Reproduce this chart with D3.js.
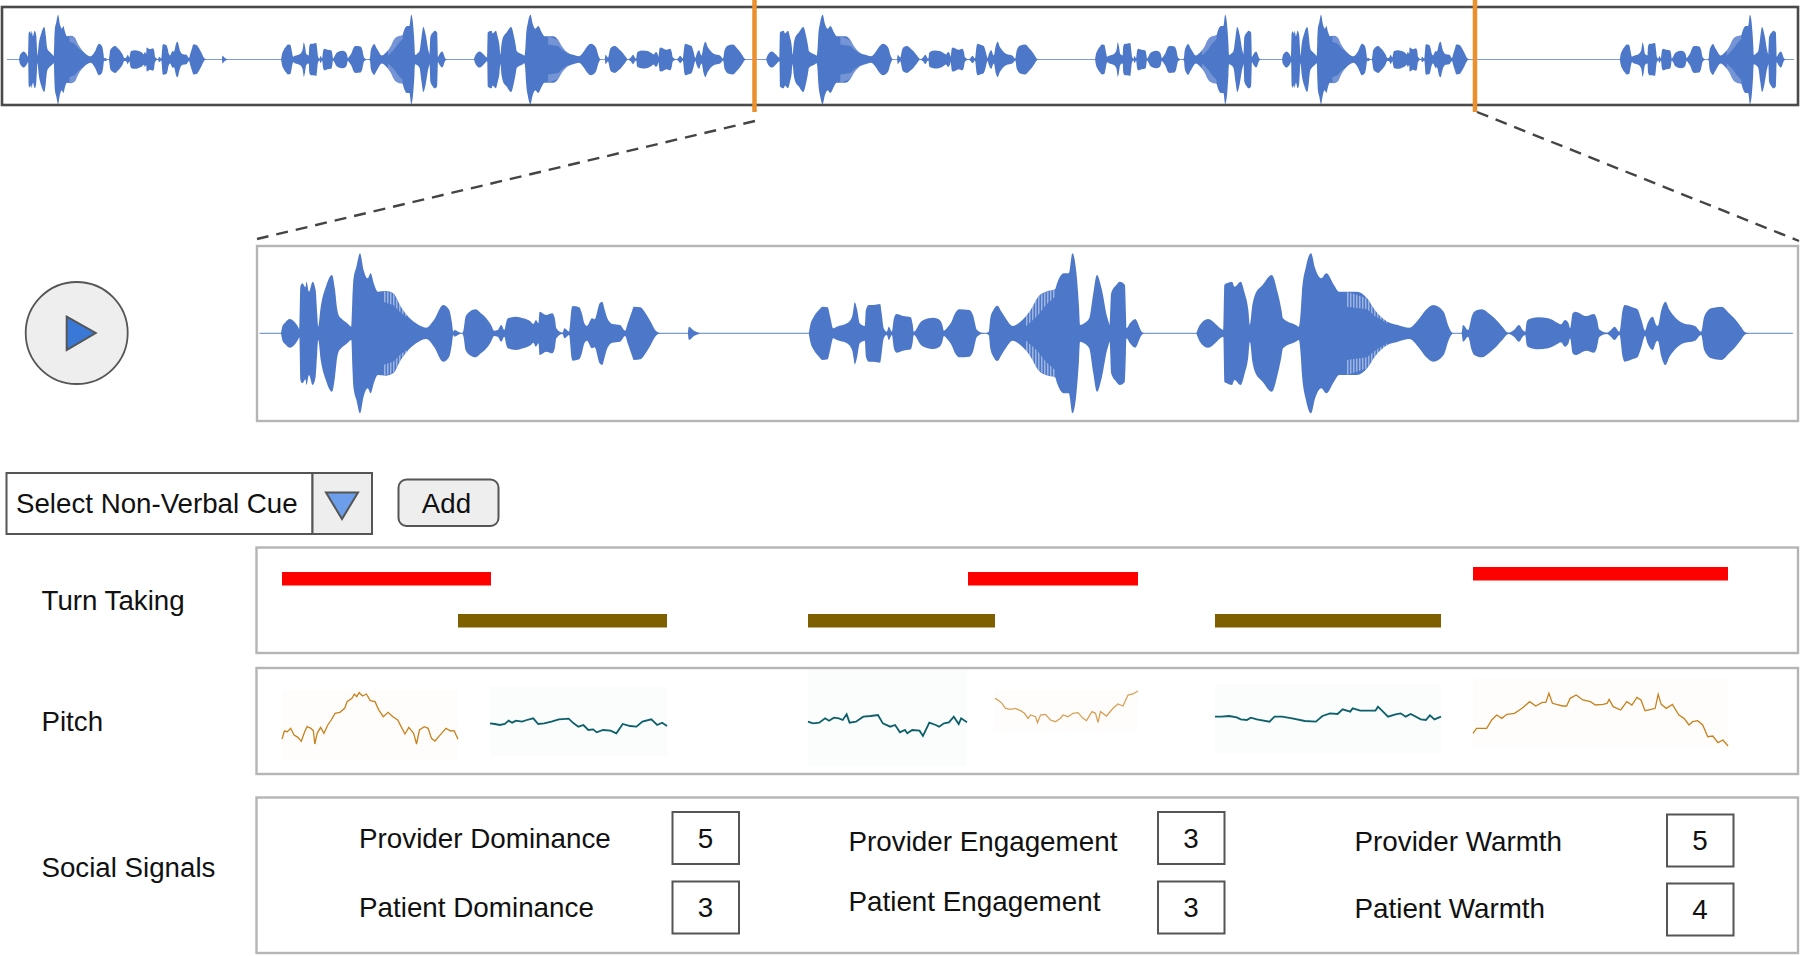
<!DOCTYPE html>
<html>
<head>
<meta charset="utf-8">
<script src="https://cdn.jsdelivr.net/npm/d3@7"></script>
<style>
    html, body { margin: 0; padding: 0; background: white; }
    text { font-family: "Liberation Sans", Arial, sans-serif; fill: #111; }
</style>
</head>
<body>
<div id="viz-container"></div>
<script>
// ---- waveform envelopes (frame, amplitude) ----
let shortFrames = [0,3,8,17,28,34,36,38,42,48,50,55,62,68,71,73,78,88,100,106,110,113,118,130,138,140,142,148,155,162,170,176,182,190,205,220,235,250,265,285,300,318,330,335,338,340,355,358,362,370,382,392,400,412,418,425,432,438,442,445,460,475,490,495,500,505,507,520,532,537,540,552,556,565,570,572,585,590,595,600,610,615,625,630,635,640,650,665,675,680,688,692,705,715,725,735,745];
let shortAmps = [0,22,32,43,32,18,12,140,150,138,155,125,155,130,60,20,80,140,175,130,75,55,45,30,20,100,160,200,240,190,165,180,150,125,127,120,80,50,30,17,40,85,70,35,5,10,0,10,50,65,72,60,50,25,8,10,25,10,35,45,50,45,35,28,40,30,65,55,60,45,15,2,15,5,75,82,78,60,30,22,45,42,90,95,70,45,28,25,8,30,65,80,78,60,35,8,0];

let backFrames = [0,3,10,20,27,37,42,48,55,75,85,88,90,95,100,110,112,118,127,140,143,147,153,157,163,167,172,185,200,204,206,220,225,245,255,262,265,273,280,287,295,315,322,330,345,353,356,362,370,378,385,400,415,435,450,465,483,487,500,510,517,525,530,532,540,550,558,565,575,585,588,590,593,603,610,620,622,623,630,640,653,660];
let backAmps = [0,25,50,70,80,78,50,15,20,30,50,75,93,70,30,22,70,85,85,88,60,15,5,20,5,45,58,52,48,25,5,35,40,47,42,25,8,20,35,60,72,70,55,10,0,5,45,70,83,65,48,22,35,70,110,125,132,150,180,180,240,180,80,25,30,45,120,175,130,50,35,25,120,145,155,145,60,15,30,43,5,0];

let longFrames = [0,7,23,40,47,53,55,60,70,75,87,95,102,105,110,115,130,148,160,167,170,195,201,205,207,215,225,233,245,255,270,280,315,335,350,375,395,418,435,450,465,485,495,500,505,520,523,533,540,545,560,575,585,600,612,623,633,640,645,648,652,670,690,708,715,723,730,733,738,743,765,780,786,790,805,813,820,830,836,840,855,865,873,880,885,895,902,905,912,920,928,935,955,978,990,996,1010,1030,1045,1055,1068,1075,1085];
let longAmps = [0,25,43,25,15,10,145,150,155,140,155,120,70,25,85,115,145,175,120,70,45,25,20,70,120,200,240,195,165,180,145,125,125,105,70,35,25,17,40,70,85,65,20,5,0,0,25,10,50,65,72,58,45,20,2,10,25,10,5,35,42,48,45,32,27,40,30,15,60,65,52,58,40,12,2,10,20,5,70,85,78,72,40,8,30,50,25,22,70,95,70,55,30,22,5,50,75,80,60,45,20,5,0];

let blipFrames = [0,2,12,22];
let blipAmps = [0,20,8,2];

// the paler, combed part of each phrase (frame, inner amplitude, outer amplitude)
let shortCombFrames = [200,220,235,250];
let shortCombInner = [95,85,62,46];
let shortCombOuter = [127,120,80,50];
let backCombFrames = [425,450,465,483];
let backCombInner = [20,55,85,110];
let backCombOuter = [52,110,125,132];
let longCombFrames = [295,335,350,375];
let longCombInner = [80,72,52,30];
let longCombOuter = [125,105,70,35];

// order of the phrases on each of the two timelines
let overviewPhrases = ["short","blip","back","long","long","back","short","back"];
let overviewStarts = [48,854,1089,1855,3016,4323,5066,6408];
let detailPhrases = ["short","blip","back","long"];
let detailStarts = [80,878,1115,1875];

// ---- turn taking, seconds ----
let providerStarts = [2.5,71.1,121.6];
let providerEnds = [23.4,88.1,147.1];
let providerLift = [0,0,1];
let patientStarts = [20.1,55.1,95.8];
let patientEnds = [41.0,73.8,118.4];

// ---- pitch contours ----
let pitchStarts = [2.5,23.3,55.1,73.8,95.8,121.6];
let pitchEnds = [20.1,41.0,71.0,88.1,118.4,147.1];
let pitchBgHigh = [240,250,298,240,258,275];
let pitchBgLow = [30,42,10,115,50,70];
let pitchSpeaker = ["provider","patient","patient","provider","patient","provider"];
let pitchFrames1 = [45,50,56,63,70,78,85,92,97,105,110,113,118,125,132,140,147,155,165,175,180,190,195,200,205,212,220,228,238,245,255,265,275,285,292,300,308,318,324,330,340,348,355,362,370,385,395,402,410];
let pitchValues1 = [93,117,115,125,105,98,86,115,130,125,118,78,110,128,110,135,150,170,173,185,205,215,228,220,232,222,228,208,205,182,160,173,160,150,130,108,128,110,78,120,130,125,95,87,100,125,117,118,92];
let pitchFrames2 = [480,490,500,510,518,525,533,545,555,568,578,590,605,620,640,650,660,670,680,690,697,710,725,737,750,765,778,790,808,820,830,840];
let pitchValues2 = [140,138,135,138,148,142,148,145,150,155,138,140,145,152,154,140,130,135,120,122,113,120,118,110,138,132,130,145,152,135,142,132];
let pitchFrames3 = [1137,1147,1160,1172,1180,1190,1200,1208,1216,1222,1235,1250,1265,1280,1290,1305,1315,1325,1335,1340,1350,1365,1372,1385,1398,1405,1415,1425,1435,1445,1450,1462];
let pitchValues3 = [145,140,142,155,148,157,155,150,167,142,145,160,162,165,140,130,135,113,120,110,120,118,102,142,135,130,140,143,160,138,155,143];
let pitchFrames4 = [-51,-43,-37,-30,-20,-10,0,8,15,20,30,34,40,50,60,70,80,85,95,105,115,125,132,143,150,155,160,172,185,195,205,215,225,235];
let pitchValues4 = [215,208,200,185,182,185,178,170,155,165,160,142,165,167,150,145,155,165,160,170,172,155,148,175,170,143,175,162,185,198,192,225,228,237];
let pitchFrames5 = [397,410,425,440,448,460,468,480,505,515,530,550,575,597,610,625,640,650,665,670,685,715,720,730,740,755,765,775,785,805,815,823,832,845];
let pitchValues5 = [160,160,162,158,152,150,157,152,145,160,160,155,147,145,162,170,168,182,175,185,178,178,190,175,160,167,170,160,168,152,150,164,152,160];
let pitchFrames6 = [918,925,945,955,965,975,985,1000,1015,1030,1042,1055,1062,1068,1075,1095,1103,1110,1122,1135,1150,1160,1175,1183,1187,1195,1210,1222,1232,1242,1250,1258,1270,1278,1284,1290,1300,1312,1325,1335,1345,1352,1362,1372,1382,1392,1402,1412,1422];
let pitchValues6 = [110,125,125,150,165,155,167,170,185,205,192,203,203,230,200,192,192,215,225,210,205,195,197,200,212,190,180,205,195,218,210,178,182,185,227,197,185,197,165,155,135,145,148,135,100,102,82,90,72];
let pitchFrames = [pitchFrames1,pitchFrames2,pitchFrames3,pitchFrames4,pitchFrames5,pitchFrames6];
let pitchValues = [pitchValues1,pitchValues2,pitchValues3,pitchValues4,pitchValues5,pitchValues6];

// ---- texts ----
let rowLabels = ["Turn Taking","Pitch","Social Signals"];
let signalNames = ["Provider Dominance","Patient Dominance","Provider Engagement","Patient Engagement","Provider Warmth","Patient Warmth"];
let signalScores = [5,3,3,3,5,4];


let viz = d3.select("#viz-container")
                .append("svg")
                    .attr("id", "viz")
                    .attr("width", 1800)
                    .attr("height", 956)
                    .style("display", "block")
                    .style("background-color", "white")
;

let waveBlue = "#4d77c9";
let phrases = {
    short: {frames: shortFrames, amps: shortAmps, comb: [shortCombFrames, shortCombInner, shortCombOuter]},
    back: {frames: backFrames, amps: backAmps, comb: [backCombFrames, backCombInner, backCombOuter]},
    long: {frames: longFrames, amps: longAmps, comb: [longCombFrames, longCombInner, longCombOuter]},
    blip: {frames: blipFrames, amps: blipAmps}
};

let defs = viz.append("defs");
let stripes = defs.append("pattern")
                .attr("id", "comb")
                .attr("width", 3)
                .attr("height", 3)
                .attr("patternUnits", "userSpaceOnUse")
;
stripes.append("rect")
                .attr("width", 1.5)
                .attr("height", 3)
                .attr("fill", "white")
                .attr("fill-opacity", 0.45)
;
defs.append("filter").attr("id", "soft")
                .append("feGaussianBlur").attr("stdDeviation", 0.45)
;

// draws one timeline of phrases around a centre line
function drawWave(parent, names, starts, x, amp, mid, combFill, first, last){
    parent.append("line")
                .attr("x1", x(first))
                .attr("x2", x(last))
                .attr("y1", mid)
                .attr("y2", mid)
                .attr("stroke", "#7c9bd8")
                .attr("stroke-width", 1.2)
    ;
    names.forEach(function(name, i){
        let phrase = phrases[name];
        let t0 = starts[i];
        let area = d3.area()
                .curve(d3.curveMonotoneX)
                .x(function(d){ return x(t0 + d); })
                .y0(function(d, j){ return mid + amp(phrase.amps[j]); })
                .y1(function(d, j){ return mid - amp(phrase.amps[j]); })
        ;
        parent.append("path")
                .attr("d", area(phrase.frames))
                .attr("fill", waveBlue)
        ;
        if(phrase.comb){
            let upper = d3.area()
                .x(function(d){ return x(t0 + d); })
                .y0(function(d, j){ return mid - amp(phrase.comb[1][j]); })
                .y1(function(d, j){ return mid - amp(phrase.comb[2][j]); })
            ;
            let lower = d3.area()
                .x(function(d){ return x(t0 + d); })
                .y0(function(d, j){ return mid + amp(phrase.comb[1][j]); })
                .y1(function(d, j){ return mid + amp(phrase.comb[2][j]); })
            ;
            parent.append("path").attr("d", upper(phrase.comb[0])).attr("fill", combFill).attr("fill-opacity", combFill == "white" ? 0.22 : 1);
            parent.append("path").attr("d", lower(phrase.comb[0])).attr("fill", combFill).attr("fill-opacity", combFill == "white" ? 0.22 : 1);
        }
    });
}

// overview strip
let overviewX = d3.scaleLinear().domain([0,7100]).range([7,1794]);
let overviewAmp = d3.scaleLinear().domain([0,240]).range([0,44.7]);
let overviewGroup = viz.append("g").attr("filter", "url(#soft)");
drawWave(overviewGroup, overviewPhrases, overviewStarts, overviewX, overviewAmp, 59.5, "white", 0, 7100);

viz.append("rect")
                .attr("x", 2)
                .attr("y", 7)
                .attr("width", 1796)
                .attr("height", 98)
                .attr("fill", "none")
                .attr("stroke", "#4a4a4a")
                .attr("stroke-width", 2.6)
;

// selection handles and the zoom guides
viz.selectAll(".handle").data([754.5,1475]).enter().append("line")
                .attr("class", "handle")
                .attr("x1", function(d){ return d; })
                .attr("x2", function(d){ return d; })
                .attr("y1", 0)
                .attr("y2", 112)
                .attr("stroke", "#ec8f2d")
                .attr("stroke-width", 4.5)
;
viz.selectAll(".guide").data([[755,121,257,239],[1477,112,1799,241]]).enter().append("line")
                .attr("class", "guide")
                .attr("x1", function(d){ return d[0]; })
                .attr("y1", function(d){ return d[1]; })
                .attr("x2", function(d){ return d[2]; })
                .attr("y2", function(d){ return d[3]; })
                .attr("stroke", "#444")
                .attr("stroke-width", 2.4)
                .attr("stroke-dasharray", "12,8")
;

// detail view
let detailX = d3.scaleLinear().domain([33,3053]).range([257,1797]);
let detailAmp = d3.scaleLinear().domain([0,240]).range([0,80]);
let detailGroup = viz.append("g");
drawWave(detailGroup, detailPhrases, detailStarts, detailX, detailAmp, 333.3, "url(#comb)", 38, 3045);

viz.append("rect")
                .attr("x", 257)
                .attr("y", 246)
                .attr("width", 1541)
                .attr("height", 175)
                .attr("fill", "none")
                .attr("stroke", "#b5b5b5")
                .attr("stroke-width", 2.4)
;

// play button
viz.append("circle")
                .attr("cx", 76.7)
                .attr("cy", 333)
                .attr("r", 51)
                .attr("fill", "#eeeeee")
                .attr("stroke", "#555")
                .attr("stroke-width", 1.8)
;
viz.append("path")
                .attr("d", "M66.7,316.7 L95.7,333 L66.7,350 Z")
                .attr("fill", "#3a78d8")
                .attr("stroke", "#555")
                .attr("stroke-width", 2)
;

// dropdown and add button
viz.append("rect")
                .attr("x", 6.5).attr("y", 473)
                .attr("width", 306).attr("height", 61)
                .attr("fill", "white")
                .attr("stroke", "#555").attr("stroke-width", 2)
;
viz.append("rect")
                .attr("x", 312.5).attr("y", 473)
                .attr("width", 59.5).attr("height", 61)
                .attr("fill", "#eeeeee")
                .attr("stroke", "#555").attr("stroke-width", 2)
;
viz.append("path")
                .attr("d", "M326,492.5 L358,492.5 L342,519 Z")
                .attr("fill", "#6d9eeb")
                .attr("stroke", "#555")
                .attr("stroke-width", 2)
;
viz.append("text")
                .text("Select Non-Verbal Cue")
                .attr("x", 16)
                .attr("y", 513)
                .style("font-size", "27.7px")
;
viz.append("rect")
                .attr("x", 398.5).attr("y", 479.5)
                .attr("width", 100).attr("height", 46.5)
                .attr("rx", 8)
                .attr("fill", "#eeeeee")
                .attr("stroke", "#555").attr("stroke-width", 2)
;
viz.append("text")
                .text("Add")
                .attr("x", 446.5)
                .attr("y", 513)
                .attr("text-anchor", "middle")
                .style("font-size", "27.7px")
;

// the three lower panels
let panelTops = [547.5,668,797.5];
let panelBottoms = [653,774,953];
viz.selectAll(".panel").data(panelTops).enter().append("rect")
                .attr("class", "panel")
                .attr("x", 256.5)
                .attr("y", function(d){ return d; })
                .attr("width", 1541.5)
                .attr("height", function(d, i){ return panelBottoms[i] - d; })
                .attr("fill", "white")
                .attr("stroke", "#b5b5b5")
                .attr("stroke-width", 2.4)
;
let rowBaselines = [610,731,877];
viz.selectAll(".rowLabel").data(rowLabels).enter().append("text")
                .attr("class", "rowLabel")
                .text(function(d){ return d; })
                .attr("x", 41.5)
                .attr("y", function(d, i){ return rowBaselines[i]; })
                .style("font-size", "27.7px")
;

// turn taking bars
let turnX = d3.scaleLinear().domain([0,154]).range([257,1797]);
viz.selectAll(".providerBar").data(providerStarts).enter().append("rect")
                .attr("class", "providerBar")
                .attr("x", function(d){ return turnX(d); })
                .attr("y", function(d, i){ return providerLift[i] ? 567 : 572; })
                .attr("width", function(d, i){ return turnX(providerEnds[i]) - turnX(d); })
                .attr("height", 13.5)
                .attr("fill", "#ff0000")
;
viz.selectAll(".patientBar").data(patientStarts).enter().append("rect")
                .attr("class", "patientBar")
                .attr("x", function(d){ return turnX(d); })
                .attr("y", 614)
                .attr("width", function(d, i){ return turnX(patientEnds[i]) - turnX(d); })
                .attr("height", 13.5)
                .attr("fill", "#7f6000")
;

// pitch contours
let pitchY = d3.scaleLinear().domain([0,300]).range([770,670]);
pitchStarts.forEach(function(start, i){
    let isProvider = pitchSpeaker[i] == "provider";
    viz.append("rect")
                .attr("x", turnX(start))
                .attr("y", pitchY(pitchBgHigh[i]))
                .attr("width", turnX(pitchEnds[i]) - turnX(start))
                .attr("height", pitchY(pitchBgLow[i]) - pitchY(pitchBgHigh[i]))
                .attr("fill", isProvider ? "#fffdfb" : "#fbfdfd")
    ;
    let x = d3.scaleLinear().domain(d3.extent(pitchFrames[i])).range([turnX(start), turnX(pitchEnds[i])]);
    let line = d3.line()
                .x(function(d){ return x(d); })
                .y(function(d, j){ return pitchY(pitchValues[i][j]); })
    ;
    viz.append("path")
                .attr("d", line(pitchFrames[i]))
                .attr("fill", "none")
                .attr("stroke", isProvider ? "#c8821f" : "#0c5f6b")
                .attr("stroke-opacity", i == 3 ? 0.75 : 1)
                .attr("stroke-width", isProvider ? 1.3 : 1.8)
                .attr("filter", "url(#soft)")
    ;
});

// social signals
let signalTextX = [359,359,848.5,848.5,1354.5,1354.5];
let signalTextY = [848,917,851,910.5,851,918];
let signalBoxX = [672.5,672.5,1158,1158,1667,1667];
let signalBoxY = [812,881.5,812,881.5,814.5,883.5];
let signalRows = viz.selectAll(".signal").data(signalNames).enter().append("g").attr("class", "signal");
signalRows.append("text")
                .text(function(d){ return d; })
                .attr("x", function(d, i){ return signalTextX[i]; })
                .attr("y", function(d, i){ return signalTextY[i]; })
                .style("font-size", "27.8px")
;
signalRows.append("rect")
                .attr("x", function(d, i){ return signalBoxX[i]; })
                .attr("y", function(d, i){ return signalBoxY[i]; })
                .attr("width", 66.5)
                .attr("height", 52)
                .attr("fill", "white")
                .attr("stroke", "#555")
                .attr("stroke-width", 2)
;
signalRows.append("text")
                .text(function(d, i){ return signalScores[i]; })
                .attr("x", function(d, i){ return signalBoxX[i] + 33; })
                .attr("y", function(d, i){ return signalBoxY[i] + 35.5; })
                .attr("text-anchor", "middle")
                .style("font-size", "27.8px")
;
</script>
</body>
</html>
